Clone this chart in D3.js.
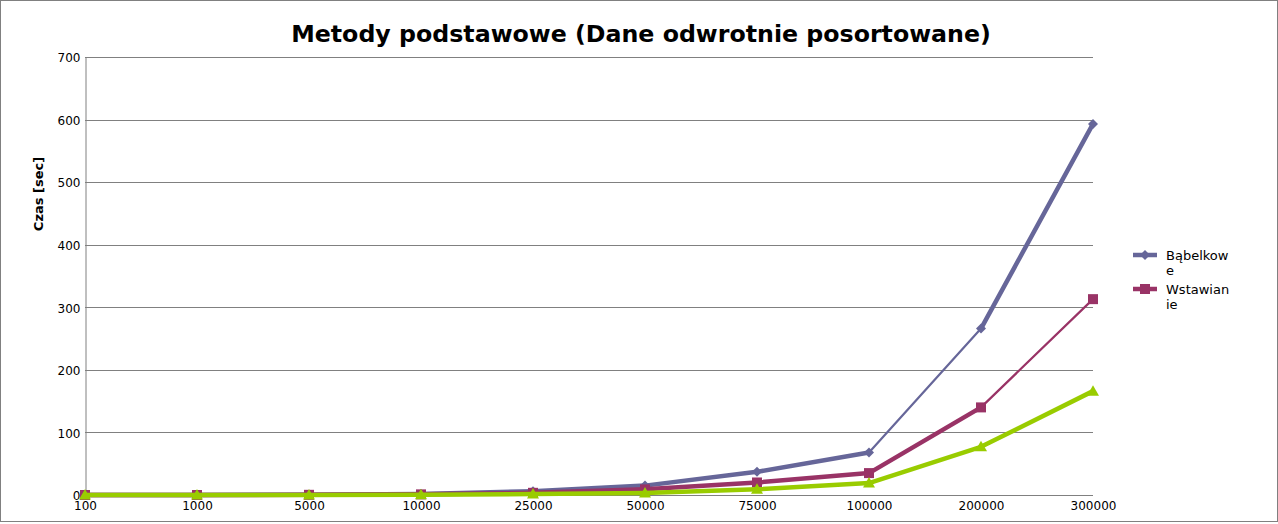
<!DOCTYPE html>
<html>
<head>
<meta charset="utf-8">
<script src="https://cdn.jsdelivr.net/npm/d3@7"></script>
<style>
  html, body { margin: 0; padding: 0; background: #fff; }
  svg { display: block; font-family: "DejaVu Sans", sans-serif; }
</style>
</head>
<body>
<svg id="chart" width="1278" height="524"></svg>
<script>
// Problem sizes (category axis)
const categories = ["100", "1000", "5000", "10000", "25000", "50000", "75000", "100000", "200000", "300000"];

// Sorting time in seconds for reverse-sorted input
const babelkowe   = [0.01, 0.1, 0.4, 1.5, 6, 15, 37, 68, 266, 593];
const wstawianie  = [0.01, 0.05, 0.3, 1, 3.5, 9, 20, 35, 140, 313];
const wybieranie  = [0.005, 0.03, 0.15, 0.5, 1.5, 3, 9, 19, 77, 166];

const yTicks = [0, 100, 200, 300, 400, 500, 600, 700];

const titleText = "Metody podstawowe (Dane odwrotnie posortowane)";
const yTitle = "Czas [sec]";

const series = [
  { name: ["Bąbelkow", "e"], values: babelkowe, color: "#666699", marker: "diamond", thin: 7, legend: true },
  { name: ["Wstawian", "ie"], values: wstawianie, color: "#993366", marker: "square", thin: 8, legend: true },
  { name: ["Wybieranie"], values: wybieranie, color: "#99cc00", marker: "triangle", thin: -1, legend: false }
];

const svg = d3.select("#chart");
const W = 1278, H = 524;

// outer frame
svg.append("rect")
  .attr("x", 0.5).attr("y", 0.5)
  .attr("width", W - 1).attr("height", 521)
  .attr("fill", "#fff").attr("stroke", "#808080").attr("stroke-width", 1);

const plot = { left: 85, right: 1093, top: 57, bottom: 495 };

const x = d3.scalePoint().domain(categories).range([plot.left, plot.right]);
const y = d3.scaleLinear().domain([0, 700]).range([plot.bottom, plot.top]);

// horizontal grid
svg.append("g").selectAll("line").data(yTicks).join("line")
  .attr("x1", plot.left).attr("x2", plot.right)
  .attr("y1", d => Math.round(y(d)) + 0.5).attr("y2", d => Math.round(y(d)) + 0.5)
  .attr("stroke", "#808080").attr("stroke-width", 1);

// y axis
const yAxis = svg.append("g")
  .attr("transform", `translate(${plot.left + 0.5},0.5)`)
  .call(d3.axisLeft(y).tickValues(yTicks).tickSize(0).tickPadding(5).tickFormat(d3.format("d")));
yAxis.select(".domain").attr("stroke", "#808080");
yAxis.selectAll("text").attr("font-size", 12).attr("fill", "#000")
  .attr("font-family", "DejaVu Sans, sans-serif").attr("dy", "0.36em");

// x axis labels
const xAxis = svg.append("g")
  .attr("transform", `translate(0,${plot.bottom + 0.5})`)
  .call(d3.axisBottom(x).tickSize(0).tickPadding(6));
xAxis.select(".domain").remove();
xAxis.selectAll("text").attr("font-size", 12).attr("fill", "#000")
  .attr("font-family", "DejaVu Sans, sans-serif");

// title
svg.append("text")
  .attr("x", 641).attr("y", 42)
  .attr("text-anchor", "middle")
  .attr("font-size", 23.7).attr("font-weight", "bold")
  .text(titleText);

// y axis title
svg.append("text")
  .attr("transform", "translate(43,194) rotate(-90)")
  .attr("text-anchor", "middle")
  .attr("font-size", 13).attr("font-weight", "bold")
  .text(yTitle);

function markerPath(kind, cx, cy) {
  if (kind === "diamond") {
    const r = 5;
    return `M${cx},${cy - r}L${cx + r},${cy}L${cx},${cy + r}L${cx - r},${cy}Z`;
  }
  if (kind === "square") {
    const s = 5;
    return `M${cx - s},${cy - s}H${cx + s}V${cy + s}H${cx - s}Z`;
  }
  const h = 6;
  return `M${cx},${cy - h}L${cx + h},${cy + h * 0.75}L${cx - h},${cy + h * 0.75}Z`;
}

const lines = svg.append("g");
series.forEach(s => {
  const g = lines.append("g");
  const pts = s.values.map((v, i) => [x(categories[i]), y(v)]);
  const segs = d3.pairs(pts).map((p, i) => ({ p, i }));
  g.selectAll("line").data(segs).join("line")
    .attr("x1", d => d.p[0][0]).attr("y1", d => d.p[0][1])
    .attr("x2", d => d.p[1][0]).attr("y2", d => d.p[1][1])
    .attr("stroke", s.color)
    .attr("stroke-width", d => d.i === s.thin ? 2.2 : 4.5)
    .attr("stroke-linecap", "round");
  g.selectAll("path").data(pts).join("path")
    .attr("d", d => markerPath(s.marker, d[0], d[1]))
    .attr("fill", s.color);
});

// legend
const legend = svg.append("g");
series.filter(s => s.legend).forEach((s, i) => {
  const ly = 255 + i * 34;
  const g = legend.append("g");
  g.append("line")
    .attr("x1", 1133).attr("x2", 1157).attr("y1", ly).attr("y2", ly)
    .attr("stroke", s.color).attr("stroke-width", 4.5);
  g.append("path").attr("d", markerPath(s.marker, 1145, ly)).attr("fill", s.color);
  const t = g.append("text").attr("x", 1166).attr("y", ly + 5)
    .attr("font-size", 13).attr("fill", "#000");
  s.name.forEach((part, k) => {
    t.append("tspan").attr("x", 1166).attr("dy", k === 0 ? 0 : 15).text(part);
  });
});
</script>
</body>
</html>
